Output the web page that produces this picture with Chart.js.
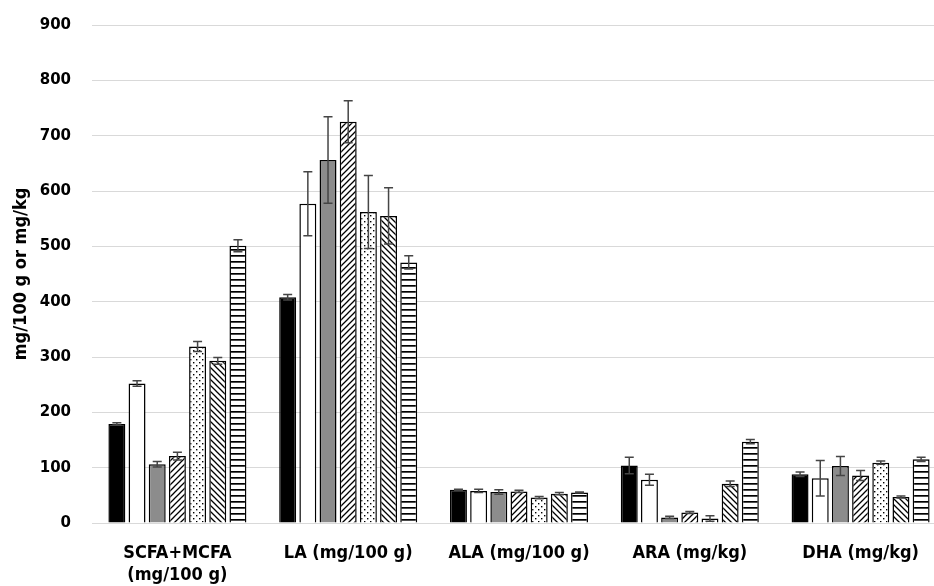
<!DOCTYPE html>
<html>
<head>
<meta charset="utf-8">
<script src="https://cdn.jsdelivr.net/npm/chart.js@4.4.1/dist/chart.umd.min.js"></script>
<style>
html,body{margin:0;padding:0;background:#fff;overflow:hidden;}
#wrap{width:934px;height:586px;position:relative;overflow:hidden;}
#c{position:absolute;left:0;top:-5px;}
</style>
</head>
<body>
<div id="wrap"><canvas id="c" width="950" height="592"></canvas></div>
<script>
const categories = [["SCFA+MCFA","(mg/100 g)"], "LA (mg/100 g)", "ALA (mg/100 g)", "ARA (mg/kg)", "DHA (mg/kg)"];
const yTicks = [0,100,200,300,400,500,600,700,800,900];
const yTitle = "mg/100 g or mg/kg";

const s1 = [179, 408, 60, 104, 88];
const s1err = [2, 5, 1, 15, 4];
const s2 = [252, 577, 58, 78, 81];
const s2err = [5, 58, 3, 10, 32];
const s3 = [106, 656, 56, 10, 103];
const s3err = [5, 78, 4, 2, 17];
const s4 = [121, 725, 57, 19, 86];
const s4err = [7, 38, 2, 2, 9];
const s5 = [319, 562, 46, 8, 109];
const s5err = [9, 66, 2, 5, 3];
const s6 = [293, 555, 53, 71, 47];
const s6err = [6, 51, 2, 5, 2];
const s7 = [501, 471, 55, 147, 115];
const s7err = [11, 12, 1, 4, 4];

function makePattern(kind){
  const c = document.createElement('canvas');
  const ctx = c.getContext('2d');
  if(kind==='fwd' || kind==='back'){
    const s = 6; c.width = s; c.height = s;
    ctx.fillStyle='#fff'; ctx.fillRect(0,0,s,s);
    ctx.strokeStyle='#000'; ctx.lineWidth=1.3;
    ctx.beginPath();
    if(kind==='fwd'){
      ctx.moveTo(-1, s+1); ctx.lineTo(s+1, -1);
      ctx.moveTo(-1, 1); ctx.lineTo(1, -1);
      ctx.moveTo(s-1, s+1); ctx.lineTo(s+1, s-1);
    } else {
      ctx.moveTo(-1, -1); ctx.lineTo(s+1, s+1);
      ctx.moveTo(s-1, -1); ctx.lineTo(s+1, 1);
      ctx.moveTo(-1, s-1); ctx.lineTo(1, s+1);
    }
    ctx.stroke();
  } else if(kind==='dots'){
    const s = 6; c.width = s; c.height = s;
    ctx.fillStyle='#fff'; ctx.fillRect(0,0,s,s);
    ctx.fillStyle='#000';
    ctx.fillRect(1,1,1.4,1.4);
    ctx.fillRect(4,4,1.4,1.4);
  } else if(kind==='horiz'){
    const w = 4, h = 6; c.width = w; c.height = h;
    ctx.fillStyle='#fff'; ctx.fillRect(0,0,w,h);
    ctx.fillStyle='#000'; ctx.fillRect(0,2,w,1.7);
  }
  return document.createElement('canvas').getContext('2d').createPattern(c,'repeat');
}

const errorBarPlugin = {
  id:'errbars',
  afterDatasetsDraw(chart){
    const ctx = chart.ctx;
    const y = chart.scales.y;
    ctx.save();
    ctx.strokeStyle = '#454545';
    ctx.lineWidth = 1.5;
    chart.data.datasets.forEach((ds,i)=>{
      const meta = chart.getDatasetMeta(i);
      meta.data.forEach((el,j)=>{
        const v = ds.data[j], e = ds.errors[j];
        const x = el.x;
        const yt = y.getPixelForValue(v+e), yb = y.getPixelForValue(v-e);
        ctx.beginPath();
        ctx.moveTo(x, yt); ctx.lineTo(x, yb);
        ctx.moveTo(x-4.5, yt); ctx.lineTo(x+4.5, yt);
        ctx.moveTo(x-4.5, yb); ctx.lineTo(x+4.5, yb);
        ctx.stroke();
      });
    });
    ctx.restore();
  }
};

const fills = ['#000000', '#ffffff', '#8c8c8c', makePattern('fwd'), makePattern('dots'), makePattern('back'), makePattern('horiz')];
const series = [s1,s2,s3,s4,s5,s6,s7];
const errs = [s1err,s2err,s3err,s4err,s5err,s6err,s7err];

const datasets = series.map((d,i)=>({
  label: 'S'+(i+1),
  data: d,
  errors: errs[i],
  backgroundColor: fills[i],
  borderColor: '#000',
  borderWidth: 1.5,
  barPercentage: 0.84,
  categoryPercentage: 0.827
}));

new Chart(document.getElementById('c'), {
  type:'bar',
  data:{labels:categories, datasets},
  options:{
    responsive:false,
    animation:false,
    layout:{padding:{top:3, right:4, left:0, bottom:0}},
    plugins:{legend:{display:false}, tooltip:{enabled:false}},
    scales:{
      x:{
        grid:{display:false},
        border:{display:true, color:'#d9d9d9', width:1},
        afterFit(scale){ scale.height = 64; },
        ticks:{color:'#000', font:{family:'"Liberation Sans Narrow","DejaVu Sans Condensed",sans-serif', size:18, weight:'bold', lineHeight:1.25}, padding:11, maxRotation:0}
      },
      y:{
        min:0, max:900,
        afterBuildTicks(scale){ scale.ticks = yTicks.map(v=>({value:v})); },
        afterFit(scale){ scale.width = 92; },
        grid:{color:'#d9d9d9', lineWidth:1, drawTicks:false},
        border:{display:false},
        ticks:{color:'#000', padding:21, font:{family:'"DejaVu Sans",sans-serif', size:15, weight:'bold'}},
        title:{display:true, text:yTitle, color:'#000', padding:{top:11,bottom:0}, font:{family:'"Liberation Sans Narrow","DejaVu Sans Condensed",sans-serif', size:18, weight:'bold'}}
      }
    }
  },
  plugins:[errorBarPlugin]
});
</script>
</body>
</html>
